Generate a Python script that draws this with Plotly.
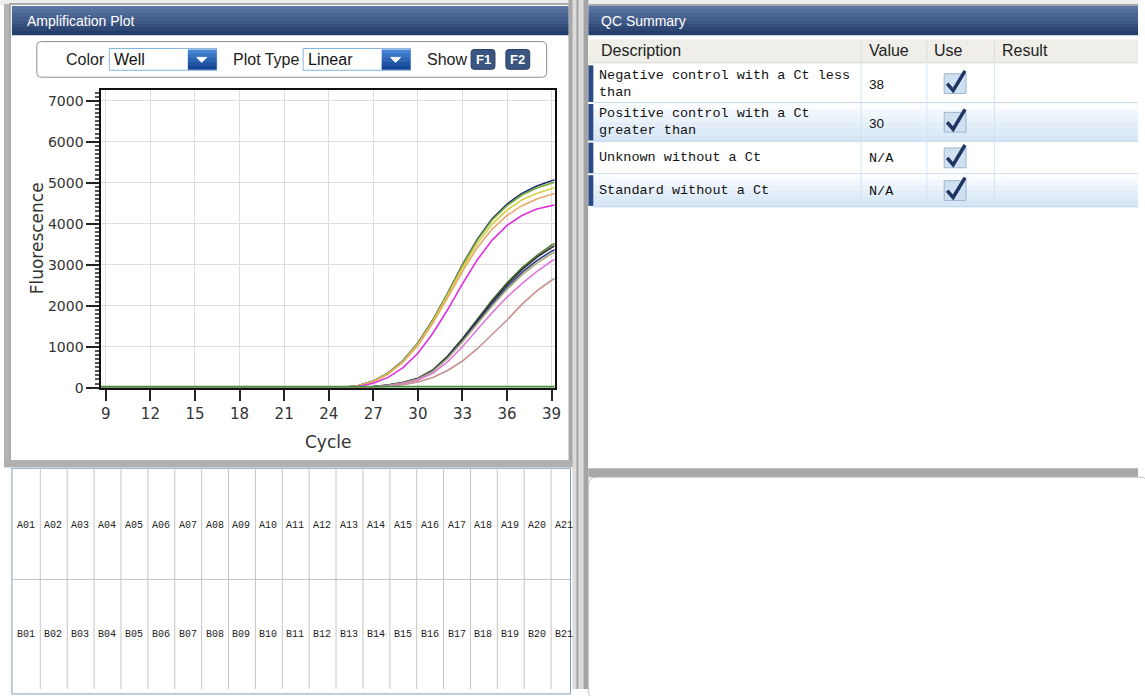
import plotly.graph_objects as go

W, H = 1145, 696

# Данные: циклы и флуоресценция по лункам
cycles = list(range(8, 41))

curve_names = ["A01", "A02", "A03", "A04", "A05",
               "A06", "A07", "A08", "A09", "A10", "A11", "A12"]
curve_colors = ["#1c2d6e", "#7aa83a", "#d6cf45", "#e8a868", "#e030e0",
                "#4f7f35", "#303030", "#2a3c8c", "#a8a470", "#e07ad8", "#c89090",
                "#3f8f3f"]

fluor_a01 = [0, 0, 0, 0, 0, 0, 0, 0, 0, 0, 0, 0, 0, 0, 0, 0, 0,
             10, 50, 160, 360, 660, 1090, 1650, 2300, 3000, 3620, 4120, 4480, 4740, 4920, 5050, 5140]
fluor_a02 = [0, 0, 0, 0, 0, 0, 0, 0, 0, 0, 0, 0, 0, 0, 0, 0, 0,
             10, 48, 155, 350, 650, 1080, 1640, 2290, 2980, 3600, 4090, 4440, 4700, 4870, 4990, 5080]
fluor_a03 = [0, 0, 0, 0, 0, 0, 0, 0, 0, 0, 0, 0, 0, 0, 0, 0, 0,
             9, 45, 150, 340, 640, 1060, 1610, 2250, 2920, 3520, 3990, 4330, 4580, 4740, 4860, 4940]
fluor_a04 = [0, 0, 0, 0, 0, 0, 0, 0, 0, 0, 0, 0, 0, 0, 0, 0, 0,
             8, 42, 145, 330, 620, 1030, 1570, 2190, 2840, 3420, 3870, 4200, 4440, 4600, 4720, 4800]
fluor_a05 = [0, 0, 0, 0, 0, 0, 0, 0, 0, 0, 0, 0, 0, 0, 0, 0, 0,
             6, 30, 105, 250, 490, 840, 1320, 1900, 2530, 3120, 3600, 3960, 4200, 4360, 4450, 4520]
fluor_a06 = [0, 0, 0, 0, 0, 0, 0, 0, 0, 0, 0, 0, 0, 0, 0, 0, 0,
             2, 8, 25, 65, 130, 230, 430, 770, 1200, 1680, 2140, 2560, 2920, 3220, 3480, 3640]
fluor_a07 = [0, 0, 0, 0, 0, 0, 0, 0, 0, 0, 0, 0, 0, 0, 0, 0, 0,
             2, 8, 24, 62, 126, 225, 420, 760, 1180, 1650, 2100, 2520, 2880, 3180, 3420, 3590]
fluor_a08 = [0, 0, 0, 0, 0, 0, 0, 0, 0, 0, 0, 0, 0, 0, 0, 0, 0,
             2, 7, 22, 58, 120, 215, 405, 735, 1150, 1610, 2050, 2460, 2810, 3100, 3330, 3500]
fluor_a09 = [0, 0, 0, 0, 0, 0, 0, 0, 0, 0, 0, 0, 0, 0, 0, 0, 0,
             2, 7, 22, 56, 116, 210, 395, 715, 1120, 1570, 2000, 2400, 2750, 3040, 3270, 3430]
fluor_a10 = [0, 0, 0, 0, 0, 0, 0, 0, 0, 0, 0, 0, 0, 0, 0, 0, 0,
             1, 5, 18, 48, 100, 185, 350, 630, 1000, 1420, 1830, 2210, 2540, 2830, 3090, 3250]
fluor_a11 = [0, 0, 0, 0, 0, 0, 0, 0, 0, 0, 0, 0, 0, 0, 0, 0, 0,
             1, 3, 10, 30, 70, 140, 250, 420, 650, 950, 1290, 1650, 2030, 2360, 2620, 2820]
fluor_a12 = [25, 25, 25, 25, 25, 25, 25, 25, 25, 25, 25, 25, 25, 25, 25, 25, 25,
             25, 25, 25, 25, 25, 25, 25, 25, 25, 25, 25, 25, 25, 25, 25, 25]

x_ticks = [9, 12, 15, 18, 21, 24, 27, 30, 33, 36, 39]
y_ticks = [0, 1000, 2000, 3000, 4000, 5000, 6000, 7000]

# Таблица QC
qc_desc = [["Negative control with a Ct less", "than"],
           ["Positive control with a Ct", "greater than"],
           ["Unknown without a Ct"],
           ["Standard without a Ct"]]
qc_value = ["38", "30", "N/A", "N/A"]
qc_cols = ["Description", "Value", "Use", "Result"]

# Лунки
well_rows = ["A", "B"]
well_count = 21

all_fluor = [fluor_a01, fluor_a02, fluor_a03, fluor_a04, fluor_a05, fluor_a06,
             fluor_a07, fluor_a08, fluor_a09, fluor_a10, fluor_a11, fluor_a12]


def X(v):
    return v / W


def Y(v):
    return 1 - v / H


shapes = []
notes = []


def rect(x0, y0, x1, y1, fill, line=None, lw=0):
    shapes.append(dict(type="rect", xref="paper", yref="paper", layer="below",
                       x0=X(x0), x1=X(x1), y0=Y(y1), y1=Y(y0),
                       fillcolor=fill, line=dict(color=line or fill, width=lw)))


def path(d_pts, fill=None, line="#000", lw=1, close=True):
    d = "M" + " L".join(f"{X(a):.5f},{Y(b):.5f}" for a, b in d_pts)
    if close:
        d += " Z"
    shapes.append(dict(type="path", xref="paper", yref="paper", layer="below", path=d,
                       fillcolor=fill if fill else "rgba(0,0,0,0)",
                       line=dict(color=line, width=lw)))


def rrect(x0, y0, x1, y1, r, fill, line, lw=1):
    d = (f"M{X(x0 + r)},{Y(y0)} L{X(x1 - r)},{Y(y0)} Q{X(x1)},{Y(y0)} {X(x1)},{Y(y0 + r)} "
         f"L{X(x1)},{Y(y1 - r)} Q{X(x1)},{Y(y1)} {X(x1 - r)},{Y(y1)} "
         f"L{X(x0 + r)},{Y(y1)} Q{X(x0)},{Y(y1)} {X(x0)},{Y(y1 - r)} "
         f"L{X(x0)},{Y(y0 + r)} Q{X(x0)},{Y(y0)} {X(x0 + r)},{Y(y0)} Z")
    shapes.append(dict(type="path", xref="paper", yref="paper", layer="below", path=d,
                       fillcolor=fill, line=dict(color=line, width=lw)))


def text(x, y, s, size=14, color="#222", family="Liberation Sans", anchor="left", angle=0):
    notes.append(dict(x=X(x), y=Y(y), xref="paper", yref="paper", text=s, showarrow=False,
                      xanchor=anchor, yanchor="middle", textangle=angle,
                      font=dict(size=size, color=color, family=family)))


def gradient_bar(x0, y0, x1, y1, c_top, c_bot, n=8):
    step = (y1 - y0) / n
    for i in range(n):
        t = i / (n - 1)
        c = tuple(int(c_top[k] + (c_bot[k] - c_top[k]) * t) for k in range(3))
        rect(x0, y0 + i * step, x1, y0 + (i + 1) * step + 0.5, "rgb(%d,%d,%d)" % c)


# фон и рамки
rect(0, 0, W, 5, "#eeeeee")
rect(4, 4, 12, 472, "#b4b4b4")
rect(10, 4, 577, 466, "#ffffff", "#a8a8a8", 2)
rect(576, 0, 587, H, "#dcdcdc")
rect(572, 0, 576, 472, "#a8a8a8")
rect(580, 0, 582, H, "#a4a4a4")
rect(587, 0, 592, H, "#a4a4a4")
rect(592, 4, W, 474, "#ffffff")
rect(592, 4, W, 6, "#a8a8a8")
rect(4, 465, 576, 472, "#b0b0b0")
rect(592, 473, W, 482, "#a8a8a8")
rrect(592, 482, W + 10, H + 10, 8, "#ffffff", "#c0c0c0", 1)

# заголовки панелей
gradient_bar(12, 6, 572, 35, (92, 118, 164), (38, 62, 108))
gradient_bar(592, 6, W, 35, (92, 118, 164), (38, 62, 108))
text(25, 21, "Amplification Plot", 14, "#ffffff")
text(603, 21, "QC Summary", 14, "#ffffff")

# панель инструментов
rrect(37, 42, 550, 78, 5, "#ffffff", "#8c8c8c", 1)
text(64, 60, "Color", 16)
rect(110, 49, 218, 71, "#ffffff", "#86b6dc", 1)
text(113, 60, "Well", 16, "#111")
gradient_bar(189, 50, 218, 70, (70, 130, 210), (20, 70, 150), 5)
path([(198, 58), (208, 58), (203, 63)], fill="#ffffff", line="#ffffff", lw=1)
text(232, 60, "Plot Type", 16)
rect(305, 49, 413, 71, "#ffffff", "#86b6dc", 1)
text(308, 60, "Linear", 16, "#111")
gradient_bar(384, 50, 413, 70, (70, 130, 210), (20, 70, 150), 5)
path([(393, 58), (403, 58), (398, 63)], fill="#ffffff", line="#ffffff", lw=1)
text(428, 60, "Show", 16)
rrect(474, 50, 498, 70, 3, "#3a5582", "#2a3f66", 1)
rrect(509, 50, 533, 70, 3, "#3a5582", "#2a3f66", 1)
text(486, 60, "<b>F1</b>", 13, "#ffffff", anchor="center")
text(521, 60, "<b>F2</b>", 13, "#ffffff", anchor="center")

# таблица QC
rect(592, 40, W, 64, "#efeee9")
rect(592, 63, W, 64, "#d8d8d0")
col_x = [597, 866, 932, 1000]
for cx in col_x[1:]:
    rect(cx, 42, cx + 1, 62, "#dcdcd4")
for name, cx in zip(qc_cols, col_x):
    text(cx + 6, 51, name, 16)
row_y = [65, 104, 143, 176, 209]
for i in range(len(qc_desc)):
    y0, y1 = row_y[i], row_y[i + 1]
    if i % 2 == 1:
        gradient_bar(597, y0, W, y1, (250, 252, 255), (214, 230, 246), 6)
    rect(592, y0 + 1, 597, y1 - 1, "#2c4a86")
    rect(597, y1 - 1, W, y1, "#c8d8ea")
    for cx in col_x[1:]:
        rect(cx, y0, cx + 1, y1, "#d4e2f0")
    lines = qc_desc[i]
    mid = (y0 + y1) / 2
    if len(lines) == 2:
        text(601, mid - 8.5, lines[0], 13.5, "#111", "Liberation Mono")
        text(601, mid + 8.5, lines[1], 13.5, "#111", "Liberation Mono")
    else:
        text(601, mid, lines[0], 13.5, "#111", "Liberation Mono")
    vfam = "Liberation Sans" if qc_value[i][0].isdigit() else "Liberation Mono"
    text(872, mid + 1, qc_value[i], 13.5, "#111", vfam)
    # флажок
    cy = mid
    rect(950, cy - 10, 972, cy + 10, "#cfe0f2", "#9fb6cf", 1)
    path([(953, cy), (959, cy + 7), (971, cy - 13)], line="#1f3562", lw=3.5, close=False)

# сетка лунок
rect(12, 473, 574, H + 5, "#ffffff", "#7f9db9", 1)
cw = 27.05
rect(12, 585, 574, 586, "#c4c4c4")
for k in range(1, well_count + 1):
    lx = 13 + k * cw
    if lx < 573:
        rect(lx, 474, lx + 1, H, "#c4c4c4")
for r, ry in zip(well_rows, [531, 641]):
    for k in range(well_count):
        cx = 13 + (k + 0.5) * cw
        text(cx, ry, f"{r}{k + 1:02d}", 10, "#222", "Liberation Mono", anchor="center")

# подписи осей
text(37, 241, "Fluorescence", 17, "#333", "DejaVu Sans", anchor="center", angle=-90)
text(330, 446, "Cycle", 17, "#333", "DejaVu Sans", anchor="center")

fig = go.Figure()
for name, col, ys in zip(curve_names, curve_colors, all_fluor):
    fig.add_trace(go.Scatter(x=cycles, y=ys, mode="lines", name=name,
                             line=dict(color=col, width=1.6), hoverinfo="skip"))

fig.update_layout(
    autosize=True, margin=dict(l=0, r=0, t=0, b=0),
    paper_bgcolor="#ffffff", plot_bgcolor="#ffffff", showlegend=False,
    shapes=shapes, annotations=notes,
    xaxis=dict(domain=[X(102), X(558)], range=[8.7, 39.2], tickvals=x_ticks,
               ticks="outside", ticklen=11, tickwidth=2, tickcolor="#222",
               showline=True, linecolor="#111", linewidth=2, mirror=True,
               showgrid=True, gridcolor="#dddddd", gridwidth=1, zeroline=False,
               tickfont=dict(family="DejaVu Sans", size=15, color="#333")),
    yaxis=dict(domain=[Y(392), Y(91)], range=[-10, 7260], tickvals=y_ticks,
               ticks="outside", ticklen=13, tickwidth=1.5, tickcolor="#222",
               minor=dict(ticks="outside", ticklen=4, dtick=100, tickcolor="#555", showgrid=False),
               showline=True, linecolor="#111", linewidth=2, mirror=True,
               showgrid=True, gridcolor="#dddddd", gridwidth=1, zeroline=False,
               tickfont=dict(family="DejaVu Sans", size=14, color="#333")),
)

# рисунок занимает ровно окно браузера, без отступов и прокрутки
fix_page = ("document.body.style.margin='0';"
            "document.documentElement.style.overflow='hidden';"
            "document.body.style.overflow='hidden';")
fig.write_html("out.html", config={"displayModeBar": False}, post_script=fix_page,
               default_width="100vw", default_height="100vh")
